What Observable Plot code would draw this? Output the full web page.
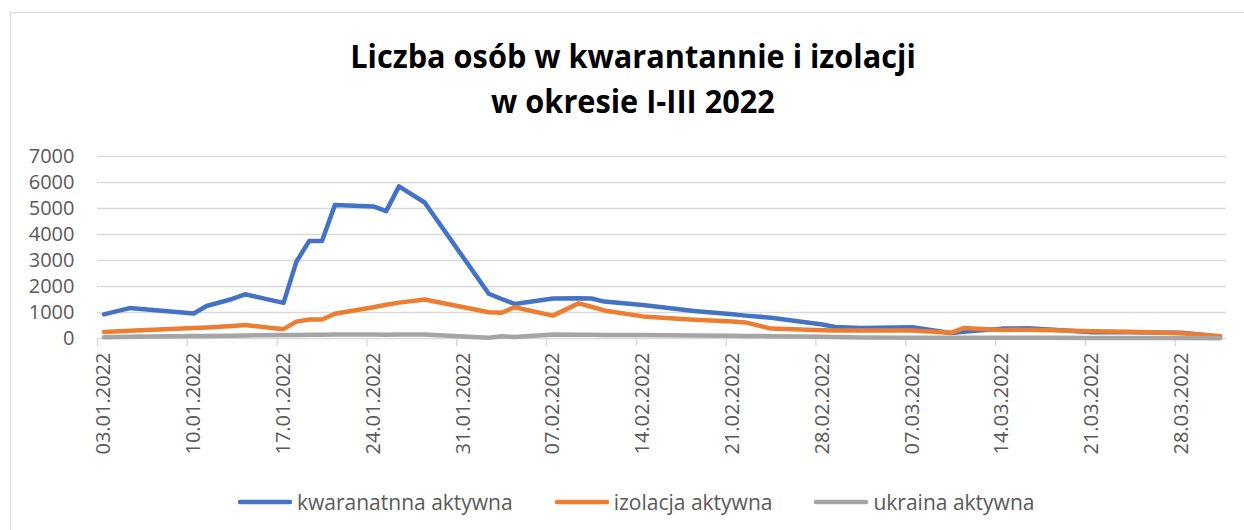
<!DOCTYPE html>
<html>
<head>
<meta charset="utf-8">
<script src="https://cdn.jsdelivr.net/npm/d3@7"></script>
<script src="https://cdn.jsdelivr.net/npm/@observablehq/plot@0.6"></script>
<style>
  html, body { margin: 0; padding: 0; background: #fff; }
  body { width: 1244px; height: 530px; position: relative; overflow: hidden; font-family: "Open Sans", sans-serif; }
  #frame { position: absolute; left: 10px; top: 12px; width: 1240px; height: 530px; border: 1px solid #d9d9d9; box-sizing: border-box; }
  #title { position: absolute; left: 22px; width: 1222px; top: 33px; text-align: center; font-weight: 700; font-size: 33px; line-height: 45px; color: #000; transform: scaleX(0.93); transform-origin: 611px 0; }
  #chart { position: absolute; left: 0; top: 130px; }
  #legend { position: absolute; left: 237px; top: 489px; display: flex; align-items: center; height: 26px; }
  .item { display: flex; align-items: center; margin-right: 41px; }
  .item span { font-size: 21px; color: #595959; margin-left: 4px; }
</style>
</head>
<body>
<div id="frame"></div>
<div id="title">Liczba osób w kwarantannie i izolacji<br>w okresie I-III 2022</div>
<div id="chart"></div>
<div id="legend"></div>
<script>
const dates = ["2022-01-03","2022-01-05","2022-01-10","2022-01-11","2022-01-13","2022-01-14","2022-01-17","2022-01-18","2022-01-19","2022-01-20","2022-01-21","2022-01-24","2022-01-25","2022-01-26","2022-01-28","2022-02-02","2022-02-03","2022-02-04","2022-02-07","2022-02-09","2022-02-10","2022-02-11","2022-02-14","2022-02-18","2022-02-21","2022-02-22","2022-02-24","2022-02-28","2022-03-01","2022-03-03","2022-03-07","2022-03-10","2022-03-11","2022-03-14","2022-03-16","2022-03-18","2022-03-21","2022-03-24","2022-03-28","2022-03-31"];
const kwarantanna = [930,1170,960,1250,1520,1700,1370,2950,3750,3750,5130,5080,4900,5850,5230,1720,1520,1330,1540,1550,1540,1420,1290,1060,930,880,800,540,440,400,430,210,260,380,390,340,240,240,220,80];
const izolacja = [250,300,400,420,480,520,360,650,730,730,950,1200,1300,1380,1500,1010,990,1200,880,1350,1220,1080,850,720,650,620,380,320,310,310,310,220,400,330,340,320,280,260,200,90];
const ukraina = [50,70,100,100,110,120,130,130,140,140,150,150,140,150,150,30,90,60,150,140,140,130,130,120,110,100,90,70,60,40,30,30,30,30,30,25,20,20,15,10];
const seriesNames = ["kwaranatnna aktywna","izolacja aktywna","ukraina aktywna"];
const seriesColors = ["#4472C4","#ED7D31","#A5A5A5"];
const yTicks = [0,1000,2000,3000,4000,5000,6000,7000];
const xLabelDates = ["2022-01-03","2022-01-10","2022-01-17","2022-01-24","2022-01-31","2022-02-07","2022-02-14","2022-02-21","2022-02-28","2022-03-07","2022-03-14","2022-03-21","2022-03-28"];

const parse = s => new Date(s + "T00:00:00Z");
const HALF = 12 * 3600 * 1000;
const valuesBySeries = [kwarantanna, izolacja, ukraina];
const rows = [];
valuesBySeries.forEach((vals, si) => {
  dates.forEach((d, i) => rows.push({date: parse(d), value: vals[i], series: seriesNames[si]}));
});
const labelTicks = xLabelDates.map(parse);
const boundaryTicks = labelTicks.map(d => new Date(d.getTime() - HALF));

const chart = Plot.plot({
  width: 1244,
  height: 340,
  marginLeft: 97,
  marginRight: 18,
  marginTop: 26,
  marginBottom: 132,
  style: {fontFamily: "'Open Sans', sans-serif", fontSize: "20px", background: "transparent", overflow: "visible"},
  x: {type: "utc", domain: [new Date(parse("2022-01-03").getTime() - HALF), new Date(parse("2022-03-31").getTime() + HALF)]},
  y: {domain: [0, 7000]},
  color: {domain: seriesNames, range: seriesColors},
  marks: [
    Plot.gridY(yTicks, {stroke: "#d9d9d9", strokeOpacity: 1, strokeWidth: 1.4}),
    Plot.axisY(yTicks, {tickSize: 0, tickPadding: 23, fontSize: 20, color: "#595959", tickFormat: d => String(d), label: null}),
    Plot.axisX(boundaryTicks, {tickSize: 8, color: "#d9d9d9", strokeWidth: 1.4, tickFormat: () => "", label: null}),
    Plot.axisX(labelTicks, {tickSize: 0, tickPadding: 14, tickRotate: -90, fontSize: 20, color: "#595959", tickFormat: d3.utcFormat("%d.%m.%Y"), label: null}),
    Plot.line(rows, {x: "date", y: "value", z: "series", stroke: "series", strokeWidth: 4.5, strokeLinejoin: "round", strokeLinecap: "round"})
  ]
});
document.getElementById("chart").appendChild(chart);

const legend = document.getElementById("legend");
seriesNames.forEach((name, i) => {
  const item = document.createElement("div");
  item.className = "item";
  item.innerHTML = `<svg width="56" height="10"><line x1="3" y1="5" x2="53" y2="5" stroke="${seriesColors[i]}" stroke-width="4.5" stroke-linecap="round"/></svg><span>${name}</span>`;
  legend.appendChild(item);
});
</script>
</body>
</html>
